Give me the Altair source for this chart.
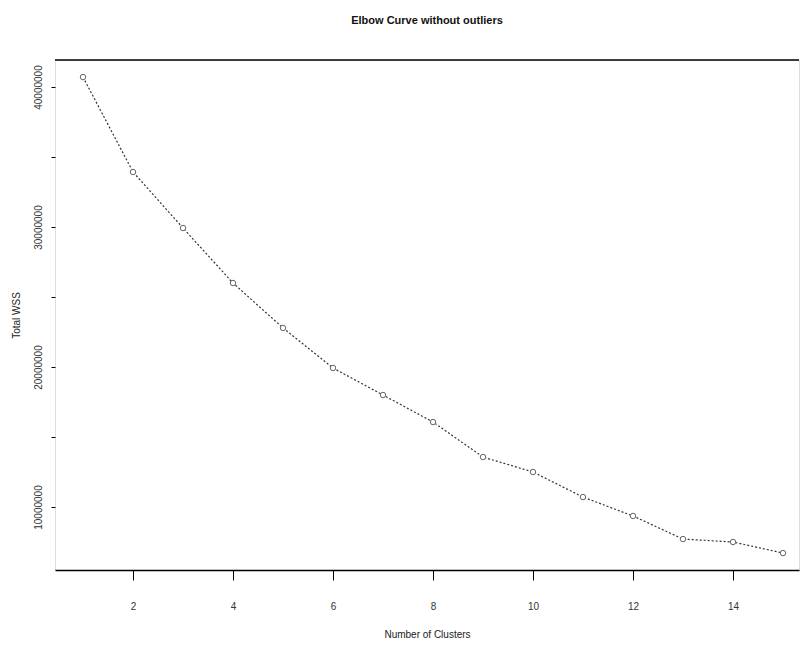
import altair as alt
import pandas as pd

# Data
clusters = list(range(1, 16))
wss = [40.71e6, 33.93e6, 29.93e6, 26.0e6, 22.79e6, 19.93e6, 18.0e6, 16.07e6,
       13.57e6, 12.5e6, 10.71e6, 9.36e6, 7.71e6, 7.5e6, 6.71e6]
x_ticks = [2, 4, 6, 8, 10, 12, 14]
y_ticks = [10e6, 15e6, 20e6, 25e6, 30e6, 35e6, 40e6]

df = pd.DataFrame({"k": clusters, "wss": wss})

W, H = 744, 510
FONT = "Liberation Sans"

x_enc = alt.X("k:Q", scale=alt.Scale(domain=[0.44, 15.32], nice=False, zero=False),
              axis=alt.Axis(values=x_ticks, format="d", grid=False, title="Number of Clusters",
                            domain=True, domainColor="#000", domainWidth=1.5,
                            tickColor="#000", tickSize=10, labelPadding=21,
                            labelFont=FONT, labelFontSize=10, labelColor="#333",
                            titleFont=FONT, titleFontSize=10, titleFontWeight="normal",
                            titleColor="#222", titlePadding=18))
y_enc = alt.Y("wss:Q", scale=alt.Scale(domain=[5.5e6, 41.93e6], nice=False, zero=False),
              axis=alt.Axis(values=y_ticks, grid=False, title="Total WSS", domain=False,
                            labelExpr="datum.value % 10000000 == 0 ? format(datum.value, 'd') : ''",
                            tickColor="#000", tickSize=4, labelAngle=270,
                            labelAlign="center", labelBaseline="bottom", labelPadding=8,
                            labelFont=FONT, labelFontSize=10, labelColor="#333",
                            titleFont=FONT, titleFontSize=10, titleFontWeight="normal",
                            titleColor="#222", titlePadding=12))

line = alt.Chart(df).mark_line(color="#333", strokeWidth=1.2, strokeDash=[2, 2]).encode(x=x_enc, y=y_enc)
pts = alt.Chart(df).mark_point(shape="circle", filled=False, fill="white", fillOpacity=1,
                               stroke="#666", strokeWidth=1, size=30, opacity=1).encode(x="k:Q", y="wss:Q")
top = alt.Chart(pd.DataFrame({"a": [0]})).mark_rule(color="#000", strokeWidth=1.5).encode(
    x=alt.value(0), x2=alt.value(W), y=alt.value(0))

chart = alt.layer(line, pts, top).properties(
    width=W, height=H,
    title=alt.TitleParams("Elbow Curve without outliers", font=FONT, fontSize=11, fontWeight="bold",
                          color="#111", anchor="middle", offset=33),
    autosize=alt.AutoSizeParams(type="none"),
    padding={"left": 47, "top": 52, "right": 3, "bottom": 82},
).configure_view(stroke=None).configure(background="white")

chart.save("out.html", embed_options={"renderer": "svg", "actions": False})
